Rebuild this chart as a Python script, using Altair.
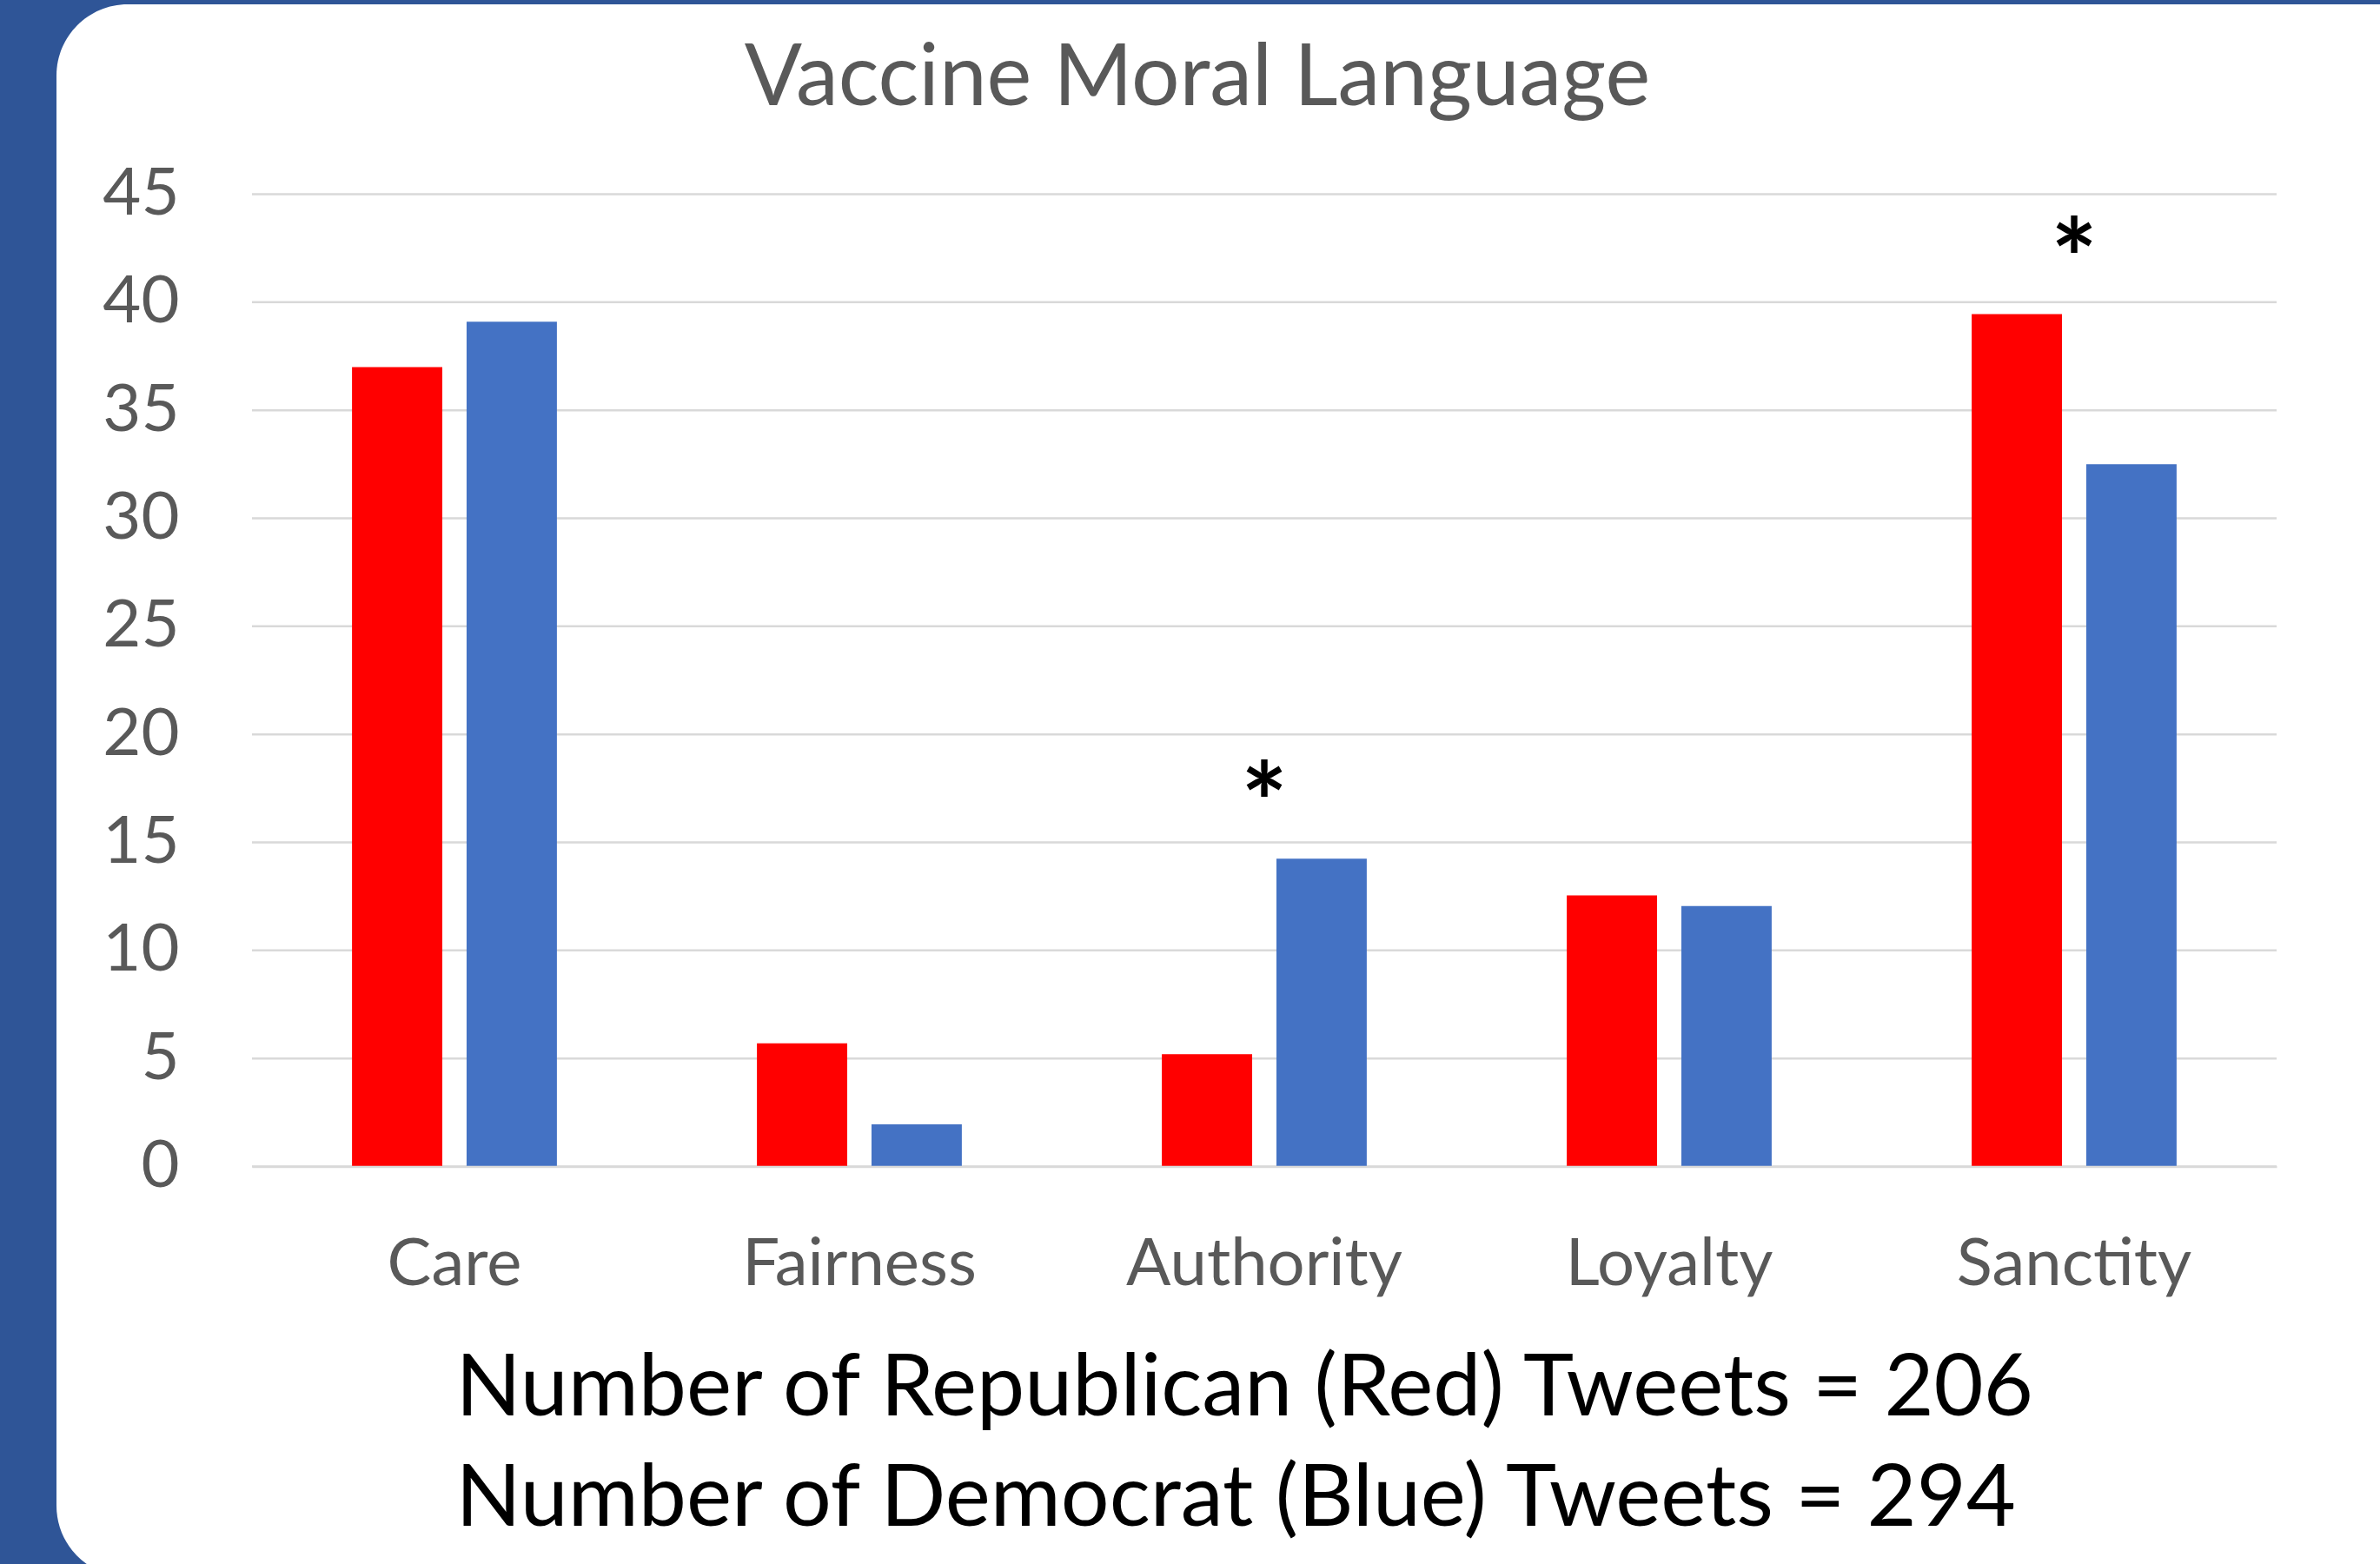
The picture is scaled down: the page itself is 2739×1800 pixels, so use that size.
import altair as alt
import pandas as pd

# Share of tweets using each moral foundation, by party
categories = ["Care", "Fairness", "Authority", "Loyalty", "Sanctity"]
republican = [37.0, 5.7, 5.2, 12.55, 39.45]
democrat = [39.1, 1.95, 14.25, 12.05, 32.5]
parties = ["Republican", "Democrat"]
party_colors = ["#FF0000", "#4472C4"]
significant = ["Authority", "Sanctity"]
y_ticks = list(range(0, 50, 5))
notes = [
    "Number of Republican (Red) Tweets = 206",
    "Number of Democrat (Blue) Tweets = 294",
]

FONT = "Lato"
GREY = "#595959"

bars_df = pd.DataFrame(
    [{"category": c, "party": parties[0], "value": r} for c, r in zip(categories, republican)]
    + [{"category": c, "party": parties[1], "value": d} for c, d in zip(categories, democrat)]
)
stars_df = pd.DataFrame(
    [{"category": c, "value": max(r, d), "mark": "*"}
     for c, r, d in zip(categories, republican, democrat) if c in significant]
)
grid_df = pd.DataFrame({"value": y_ticks})

y_axis = alt.Axis(
    values=y_ticks, grid=False, domain=False, ticks=False, tickSize=0,
    labelFont=FONT, labelFontSize=76, labelColor=GREY, labelPadding=84,
    title=None, zindex=1,
)
y_enc = alt.Y("value:Q", scale=alt.Scale(domain=[0, 45], nice=False, zero=True), axis=y_axis)
x_enc = alt.X(
    "category:N", sort=categories,
    scale=alt.Scale(paddingInner=0.494, paddingOuter=0.247),
    axis=alt.Axis(
        title=notes, titleFont=FONT, titleFontSize=98.5, titleFontWeight="normal",
        titleColor="black", titleAnchor="start", titleAlign="left",
        titleBaseline="alphabetic", titleX=234, titleY=285.5, titleLineHeight=127,
        labelFont=FONT, labelFontSize=76, labelColor=GREY, labelAngle=0,
        labelBaseline="alphabetic", labelPadding=135.5, labelLimit=0,
        ticks=False, tickSize=0, domain=True, domainColor="#D9D9D9", domainWidth=2.5,
        grid=False, zindex=1,
    ),
)

# white rounded slide panel behind the plot
panel = alt.Chart(pd.DataFrame({"k": [0]})).mark_rect(
    fill="white", cornerRadius=82
).encode(
    x=alt.value(-225), x2=alt.value(2649),
    y=alt.value(-218.5), y2=alt.value(1591.5),
)

grid = alt.Chart(grid_df).mark_rule(color="#D9D9D9", strokeWidth=2.5).encode(y=y_enc)

bars = alt.Chart(bars_df).mark_bar().encode(
    x=x_enc,
    xOffset=alt.XOffset("party:N", sort=parties, scale=alt.Scale(paddingInner=0.212)),
    y=y_enc,
    color=alt.Color("party:N", scale=alt.Scale(domain=parties, range=party_colors), legend=None),
)

stars = alt.Chart(stars_df).mark_text(
    font=FONT, fontSize=126, fontWeight="bold", color="black", baseline="alphabetic", dy=-18
).encode(
    x=alt.X("category:N", sort=categories),
    y=alt.Y("value:Q"),
    text="mark:N",
)

chart = alt.layer(panel, grid, bars, stars).properties(
    width=2330,
    height=1119,
    autosize=alt.AutoSizeParams(type="none"),
    padding={"left": 290, "top": 223.5, "right": 119, "bottom": 457.5},
    background="#2F5597",
    title=alt.TitleParams(
        text="Vaccine Moral Language", font=FONT, fontSize=98, fontWeight="normal",
        color=GREY, anchor="middle", frame="group", dx=-77, dy=214, offset=0,
        baseline="alphabetic", zindex=1,
    ),
).configure_view(stroke=None)

chart.save("out.html", embed_options={"renderer": "svg", "actions": False})
